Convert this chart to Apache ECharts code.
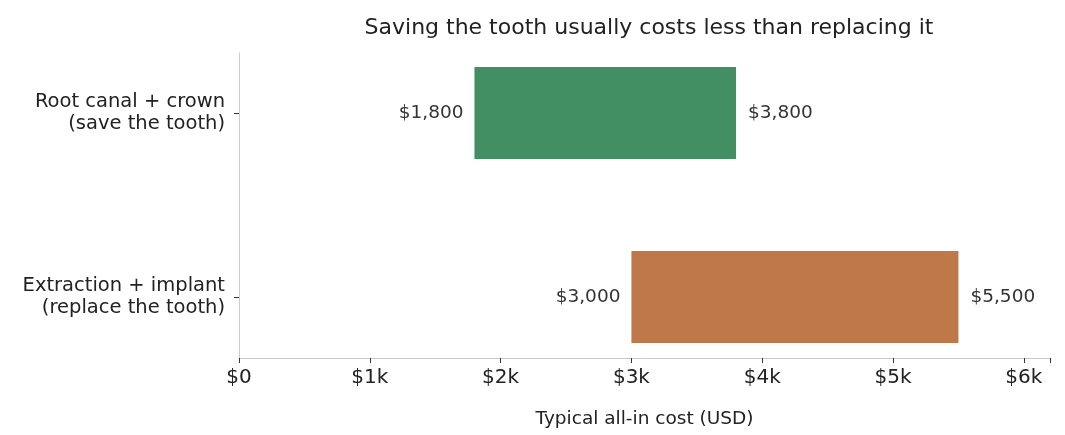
<!DOCTYPE html>
<html><head><meta charset="utf-8">
<script src="https://cdn.jsdelivr.net/npm/echarts@6/dist/echarts.min.js"></script>
<style>html,body{margin:0;background:#fff}#c{width:1065px;height:435px}</style>
</head><body><div id="c"></div>
<script>
const categories = ["Extraction + implant\n(replace the tooth)", "Root canal + crown\n(save the tooth)"];
const lowValues = [3000, 1800];
const highValues = [5500, 3800];
const barColors = ["#BF7849", "#428F63"];
const xTicks = ["$0","$1k","$2k","$3k","$4k","$5k","$6k"];
const fmt = v => "$" + v.toLocaleString("en-US");
const F = "DejaVu Sans";
const chart = echarts.init(document.getElementById("c"));
chart.setOption({
  animation:false,
  textStyle:{fontFamily:F},
  title:{text:"Saving the tooth usually costs less than replacing it",left:644,top:12,textAlign:"center",
    textStyle:{fontSize:22,fontWeight:"normal",color:"#222",fontFamily:F}},
  grid:[{left:239,right:15,top:21,bottom:46},{left:239,right:15,top:53,bottom:77}],
  xAxis:[
    {gridIndex:0,type:"value",min:0,max:6200,show:false},
    {gridIndex:1,type:"value",min:0,max:6200,interval:1000,
    name:"Typical all-in cost (USD)",nameLocation:"middle",nameGap:52,nameTextStyle:{fontSize:18.5,color:"#222",fontFamily:F},
    axisLine:{show:true,lineStyle:{color:"#ccc"}},axisTick:{show:true,length:5,lineStyle:{color:"#333"}},
    axisLabel:{fontSize:20,color:"#222",margin:10,fontFamily:F,formatter:v=>xTicks[v/1000]||""},
    splitLine:{show:false}}],
  yAxis:[
    {gridIndex:0,type:"category",data:categories,
    axisLine:{show:false},axisTick:{show:true,length:5,alignWithLabel:true,lineStyle:{color:"#333"}},
    axisLabel:{fontSize:19.5,color:"#222",margin:14,lineHeight:22,align:"right",fontFamily:F}},
    {gridIndex:1,type:"value",min:0,max:1,axisLine:{show:true,lineStyle:{color:"#ccc"}},
     axisTick:{show:false},axisLabel:{show:false},splitLine:{show:false}}],
  series:[
    {type:"bar",xAxisIndex:0,yAxisIndex:0,stack:"r",barWidth:92,itemStyle:{color:"transparent"},
     data:lowValues,
     label:{show:true,position:"insideRight",distance:11,fontSize:18.5,color:"#333",fontFamily:F,formatter:p=>fmt(p.value)}},
    {type:"bar",xAxisIndex:0,yAxisIndex:0,stack:"r",barWidth:92,
     data:highValues.map((h,i)=>({value:h-lowValues[i],itemStyle:{color:barColors[i]}})),
     label:{show:true,position:"right",distance:12,fontSize:18.5,color:"#333",fontFamily:F,formatter:p=>fmt(highValues[p.dataIndex])}}
  ]
});
</script></body></html>
